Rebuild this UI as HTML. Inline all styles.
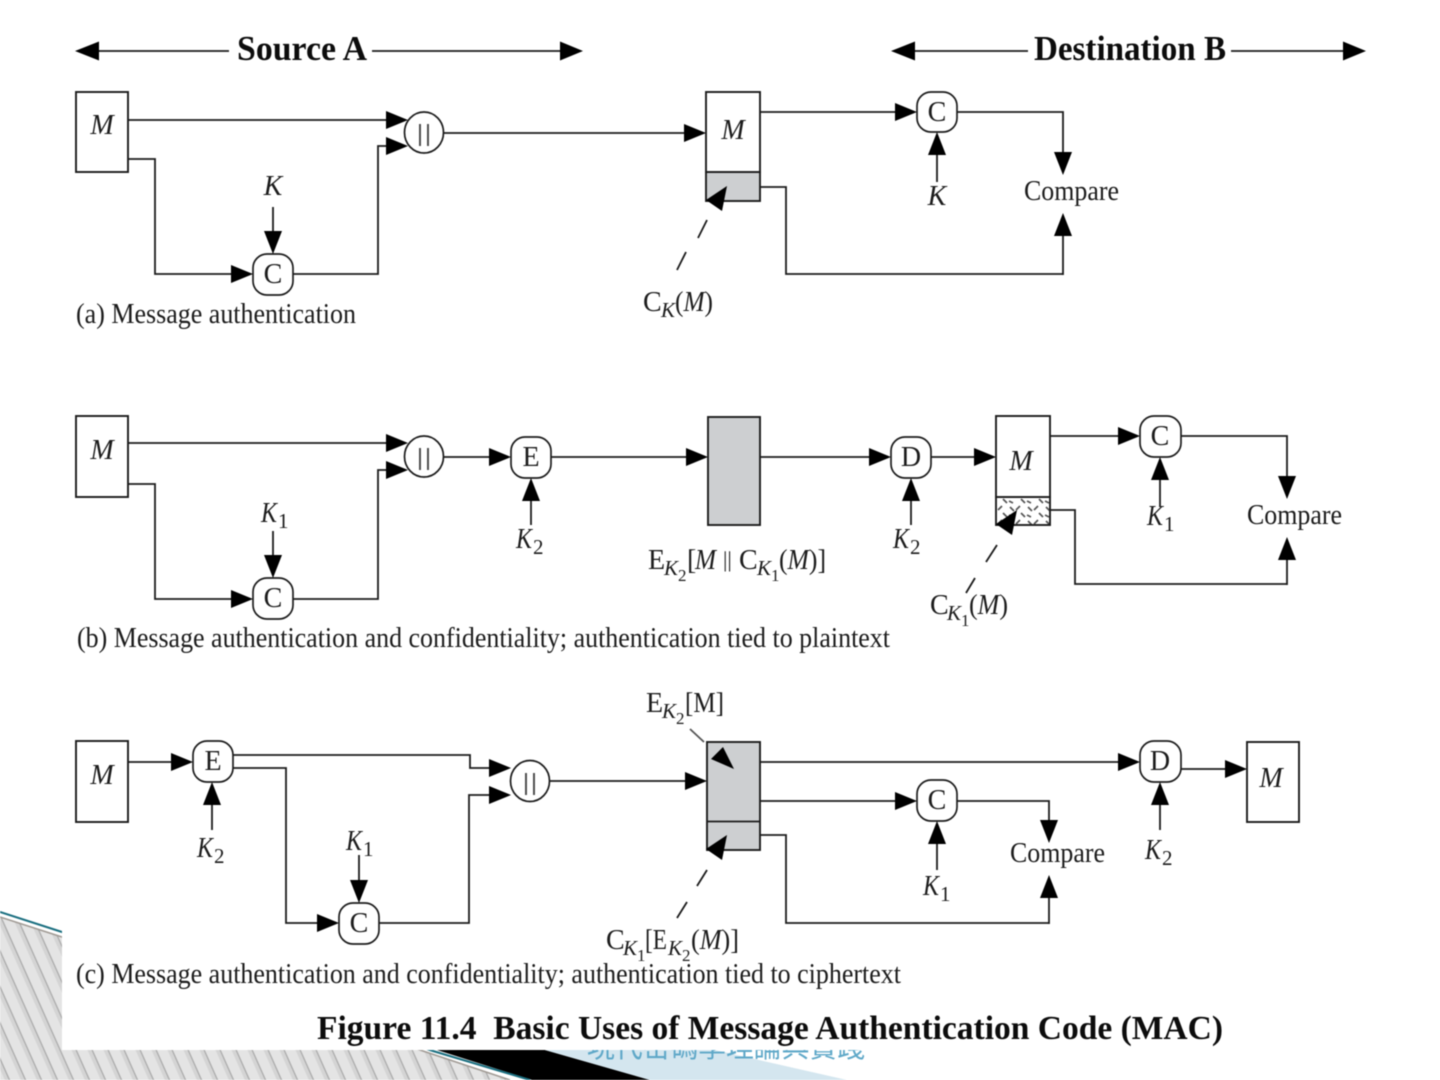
<!DOCTYPE html>
<html><head><meta charset="utf-8"><title>Figure 11.4</title>
<style>
html,body{margin:0;padding:0;background:#fff;width:1440px;height:1080px;overflow:hidden}
svg{display:block;filter:blur(.45px)}
text{font-family:"Liberation Serif","Noto Serif CJK SC",serif;fill:#1c1c1c;font-size:28px}
.i{font-style:italic}
.s{font-size:21px}
.b{font-weight:bold;fill:#0c0c0c}
.c{text-anchor:middle}
.l{fill:none;stroke:#1c1c1c;stroke-width:1.8}
.box{fill:#fff;stroke:#1c1c1c;stroke-width:1.9}
.g{fill:#cdcfd1;stroke:#1c1c1c;stroke-width:1.9}
.n{fill:#fff;stroke:#1c1c1c;stroke-width:1.7}
.cap{font-size:28.5px}
</style></head><body>
<svg width="1440" height="1080" viewBox="0 0 1440 1080" xmlns="http://www.w3.org/2000/svg">
<defs>
<pattern id="h" patternUnits="userSpaceOnUse" width="16" height="40" patternTransform="skewX(24)">
<rect width="16" height="40" fill="#e4e4e4"/>
<rect x="4" width="4" height="40" fill="#d4d4d4"/>
<rect x="8" width="1.300" height="40" fill="#a8a8a8"/>
</pattern>
<polygon id="R" points="-22,-9 -22,9 0,0"/>
<polygon id="D" points="-9,-23 9,-23 0,0"/>
<polygon id="U" points="-9,23 9,23 0,0"/>
<pattern id="x" patternUnits="userSpaceOnUse" width="18" height="14">
<rect width="18" height="14" fill="#fff"/>
<path d="M2 3L6 7M12 2L8 6M13 9L17 13M5 13L1 11" stroke="#555" stroke-width="1.700"/>
</pattern>
</defs>

<!-- slide decoration -->
<polygon points="0,917 420,1050 510,1080 0,1080" fill="url(#h)"/>
<polyline points="0,917 62,937 420,1050 510,1080" fill="none" stroke="#a09a94" stroke-width="1.500"/>
<polygon points="437,1050 545,1050 650,1080 532,1080" fill="#000"/>
<polygon points="545,1050 715,1050 847,1080 650,1080" fill="#d4e6ef"/>
<polyline points="0,912 62,932 433,1051 530,1080" fill="none" stroke="#1b6f80" stroke-width="2"/>
<text x="587" y="1057" textLength="278" lengthAdjust="spacingAndGlyphs" style="fill:#5fa8c8;font-size:30px;font-family:'Liberation Sans','Noto Sans CJK TC',sans-serif">現代密碼學理論與實踐</text>
<rect x="62" y="0" width="1378" height="1050" fill="#fff"/>

<!-- header -->
<path class="l" d="M90 51H229M372 51H565M905 51H1028M1231 51H1350"/>
<polygon points="75,51 99,41.500 99,60.500"/><polygon points="583,51 560,41.500 560,60.500"/>
<polygon points="891,51 915,41.500 915,60.500"/><polygon points="1366,51 1343,41.500 1343,60.500"/>
<text class="b" x="237" y="60" style="font-size:35px" textLength="130" lengthAdjust="spacingAndGlyphs">Source A</text>
<text class="b" x="1034" y="60" style="font-size:35px" textLength="192" lengthAdjust="spacingAndGlyphs">Destination B</text>

<!-- (a) -->
<path class="l" d="M128 120H395M128 159H155V274H240M293 274H378V146H395M444 133H695M273 207V240M760 112H905M957 112H1063V160M937 182V145M1063 275V225M760 187H786V274H1063"/>
<rect class="box" x="76" y="92" width="52" height="80"/>
<text class="i c" x="102" y="134">M</text>
<rect class="n" x="253" y="254" width="40" height="41" rx="14"/>
<text class="c" x="273" y="283">C</text>
<text class="i c" x="273" y="195">K</text>
<use href="#D" x="273" y="254"/><use href="#R" x="253" y="274"/>
<use href="#R" x="408" y="120"/><use href="#R" x="408" y="146"/>
<ellipse class="n" cx="424" cy="132.500" rx="19.500" ry="20.500"/>
<text class="c" x="424" y="141" style="font-family:'Liberation Sans',sans-serif;font-size:23px;fill:#444" textLength="14">||</text>
<use href="#R" x="706" y="133"/>
<rect class="g" x="706" y="172" width="54" height="29"/>
<rect class="box" x="706" y="92" width="54" height="80"/>
<text class="i c" x="733" y="139">M</text>
<polygon points="727,186 706,200 722,211"/>
<path class="l" d="M707 220L698 238M686 252L677 270"/>
<text x="643" y="311">C</text><text class="i s" x="661" y="317">K</text><text x="675" y="311" textLength="38" lengthAdjust="spacingAndGlyphs"><tspan>(</tspan><tspan class="i">M</tspan><tspan>)</tspan></text>
<use href="#R" x="917" y="112"/><use href="#U" x="937" y="132"/>
<rect class="n" x="917" y="92" width="40" height="40" rx="14"/>
<text class="c" x="937" y="121">C</text>
<text class="i c" x="937" y="205">K</text>
<use href="#D" x="1063" y="175"/><use href="#U" x="1063" y="213"/>
<text x="1024" y="200" textLength="95" lengthAdjust="spacingAndGlyphs">Compare</text>
<text class="cap" x="76" y="323" textLength="280" lengthAdjust="spacingAndGlyphs">(a) Message authentication</text>

<!-- (b) -->
<path class="l" d="M128 443H395M128 484H155V599H240M293 599H378V470H395M444 457H500M273 531V565M551 457H695M531 525V490M760 457H880M931 457H985M911 525V490M1050 436H1130M1181 436H1287V485M1160 507V470M1287 585V550M1050 510H1075V584H1287"/>
<rect class="box" x="76" y="416" width="52" height="81"/>
<text class="i c" x="102" y="459">M</text>
<rect class="n" x="253" y="578" width="40" height="41" rx="14"/>
<text class="c" x="273" y="607">C</text>
<text class="i" x="261" y="522" textLength="16" lengthAdjust="spacingAndGlyphs">K</text><text class="s" x="278" y="528">1</text>
<use href="#D" x="273" y="578"/><use href="#R" x="253" y="599"/>
<use href="#R" x="408" y="443"/><use href="#R" x="408" y="470"/>
<ellipse class="n" cx="424" cy="456.500" rx="19.500" ry="20.500"/>
<text class="c" x="424" y="465" style="font-family:'Liberation Sans',sans-serif;font-size:23px;fill:#444" textLength="14">||</text>
<use href="#R" x="511" y="457"/><use href="#U" x="531" y="478"/>
<rect class="n" x="511" y="437" width="40" height="41" rx="14"/>
<text class="c" x="531" y="466">E</text>
<text class="i" x="516" y="548" textLength="16" lengthAdjust="spacingAndGlyphs">K</text><text class="s" x="533" y="554">2</text>
<use href="#R" x="708" y="457"/>
<rect class="g" x="708" y="417" width="52" height="108"/>
<text x="648" y="569">E</text><text class="i s" x="664" y="575">K</text><text class="s" x="678" y="581" style="font-size:17px">2</text>
<text x="687" y="569">[</text><text class="i" x="695" y="569" textLength="21" lengthAdjust="spacingAndGlyphs">M</text><text x="723" y="567" style="font-size:22px">||</text>
<text x="739" y="569">C</text><text class="i s" x="757" y="575">K</text><text class="s" x="771" y="581" style="font-size:17px">1</text>
<text x="779" y="569" textLength="47" lengthAdjust="spacingAndGlyphs"><tspan>(</tspan><tspan class="i">M</tspan><tspan>)]</tspan></text>
<use href="#R" x="891" y="457"/><use href="#U" x="911" y="478"/>
<rect class="n" x="891" y="437" width="40" height="41" rx="14"/>
<text class="c" x="911" y="466">D</text>
<text class="i" x="893" y="548" textLength="16" lengthAdjust="spacingAndGlyphs">K</text><text class="s" x="910" y="554">2</text>
<use href="#R" x="996" y="457"/>
<rect x="996" y="497" width="54" height="28" fill="url(#x)" stroke="#1c1c1c" stroke-width="1.900"/>
<rect class="box" x="996" y="416" width="54" height="81"/>
<text class="i c" x="1021" y="470">M</text>
<polygon points="1017,510 996,524 1012,535"/>
<path class="l" d="M997 545L986 562M975 578L966 593"/>
<text x="930" y="614">C</text><text class="i s" x="947" y="620">K</text><text class="s" x="961" y="626" style="font-size:17px">1</text>
<text x="969" y="614" textLength="39" lengthAdjust="spacingAndGlyphs"><tspan>(</tspan><tspan class="i">M</tspan><tspan>)</tspan></text>
<use href="#R" x="1140" y="436"/><use href="#U" x="1160" y="457"/>
<rect class="n" x="1140" y="416" width="41" height="41" rx="14"/>
<text class="c" x="1160" y="445">C</text>
<text class="i" x="1147" y="525" textLength="16" lengthAdjust="spacingAndGlyphs">K</text><text class="s" x="1164" y="531">1</text>
<use href="#D" x="1287" y="499"/><use href="#U" x="1287" y="537"/>
<text x="1247" y="524" textLength="95" lengthAdjust="spacingAndGlyphs">Compare</text>
<text class="cap" x="77" y="647" textLength="813" lengthAdjust="spacingAndGlyphs">(b) Message authentication and confidentiality; authentication tied to plaintext</text>

<!-- (c) -->
<path class="l" d="M128 762H180M233 755H470V768H498M233 768H286V923H325M379 923H469V795H498M212 830V795M359 855V885M550 781H695M760 762H1130M760 801H905M957 801H1049V830M937 870V835M1049 924V890M760 835H786V923H1049M1160 830V795M1181 769H1235"/>
<rect class="box" x="76" y="741" width="52" height="81"/>
<text class="i c" x="102" y="784">M</text>
<use href="#R" x="193" y="762"/><use href="#U" x="212" y="782"/>
<rect class="n" x="193" y="741" width="40" height="41" rx="14"/>
<text class="c" x="213" y="770">E</text>
<text class="i" x="197" y="857" textLength="16" lengthAdjust="spacingAndGlyphs">K</text><text class="s" x="214" y="863">2</text>
<use href="#D" x="359" y="903"/><use href="#R" x="339" y="923"/>
<rect class="n" x="339" y="903" width="40" height="41" rx="14"/>
<text class="c" x="359" y="932">C</text>
<text class="i" x="346" y="850" textLength="16" lengthAdjust="spacingAndGlyphs">K</text><text class="s" x="363" y="856">1</text>
<use href="#R" x="511" y="768"/><use href="#R" x="511" y="795"/>
<ellipse class="n" cx="530" cy="781" rx="19.500" ry="20.500"/>
<text class="c" x="530" y="790" style="font-family:'Liberation Sans',sans-serif;font-size:23px;fill:#444" textLength="14">||</text>
<use href="#R" x="707" y="781"/>
<rect class="g" x="707" y="742" width="53" height="108"/>
<path class="l" d="M707 821.500H760"/>
<polygon points="723,747 711,759 734,769"/>
<polygon points="727,835 706,849 722,860"/>
<path class="l" d="M690 729L704 742" style="stroke:#555"/>
<path class="l" d="M707 870L697 886M687 902L677 918"/>
<text x="646" y="712">E</text><text class="i s" x="662" y="718">K</text><text class="s" x="676" y="724" style="font-size:17px">2</text><text x="685" y="712" textLength="39" lengthAdjust="spacingAndGlyphs">[M]</text>
<text x="606" y="949">C</text><text class="i s" x="623" y="955">K</text><text class="s" x="637" y="961" style="font-size:17px">1</text>
<text x="645" y="949" textLength="22" lengthAdjust="spacingAndGlyphs">[E</text><text class="i s" x="668" y="955">K</text><text class="s" x="682" y="961" style="font-size:17px">2</text>
<text x="691" y="949" textLength="48" lengthAdjust="spacingAndGlyphs"><tspan>(</tspan><tspan class="i">M</tspan><tspan>)]</tspan></text>
<use href="#R" x="917" y="801"/><use href="#U" x="937" y="821"/>
<rect class="n" x="917" y="780" width="40" height="41" rx="14"/>
<text class="c" x="937" y="809">C</text>
<text class="i" x="923" y="895" textLength="16" lengthAdjust="spacingAndGlyphs">K</text><text class="s" x="940" y="901">1</text>
<use href="#D" x="1049" y="843"/><use href="#U" x="1049" y="875"/>
<text x="1010" y="862" textLength="95" lengthAdjust="spacingAndGlyphs">Compare</text>
<use href="#R" x="1140" y="762"/><use href="#U" x="1160" y="782"/>
<rect class="n" x="1140" y="741" width="41" height="41" rx="14"/>
<text class="c" x="1160" y="770">D</text>
<text class="i" x="1145" y="859" textLength="16" lengthAdjust="spacingAndGlyphs">K</text><text class="s" x="1162" y="865">2</text>
<use href="#R" x="1247" y="769"/>
<rect class="box" x="1247" y="742" width="52" height="80"/>
<text class="i c" x="1271" y="787">M</text>
<text class="cap" x="76" y="983" textLength="825" lengthAdjust="spacingAndGlyphs">(c) Message authentication and confidentiality; authentication tied to ciphertext</text>

<text class="b" x="317" y="1039" style="font-size:34px" textLength="906" lengthAdjust="spacingAndGlyphs">Figure 11.4&#160;&#160;Basic Uses of Message Authentication Code (MAC)</text>
</svg>
</body></html>
